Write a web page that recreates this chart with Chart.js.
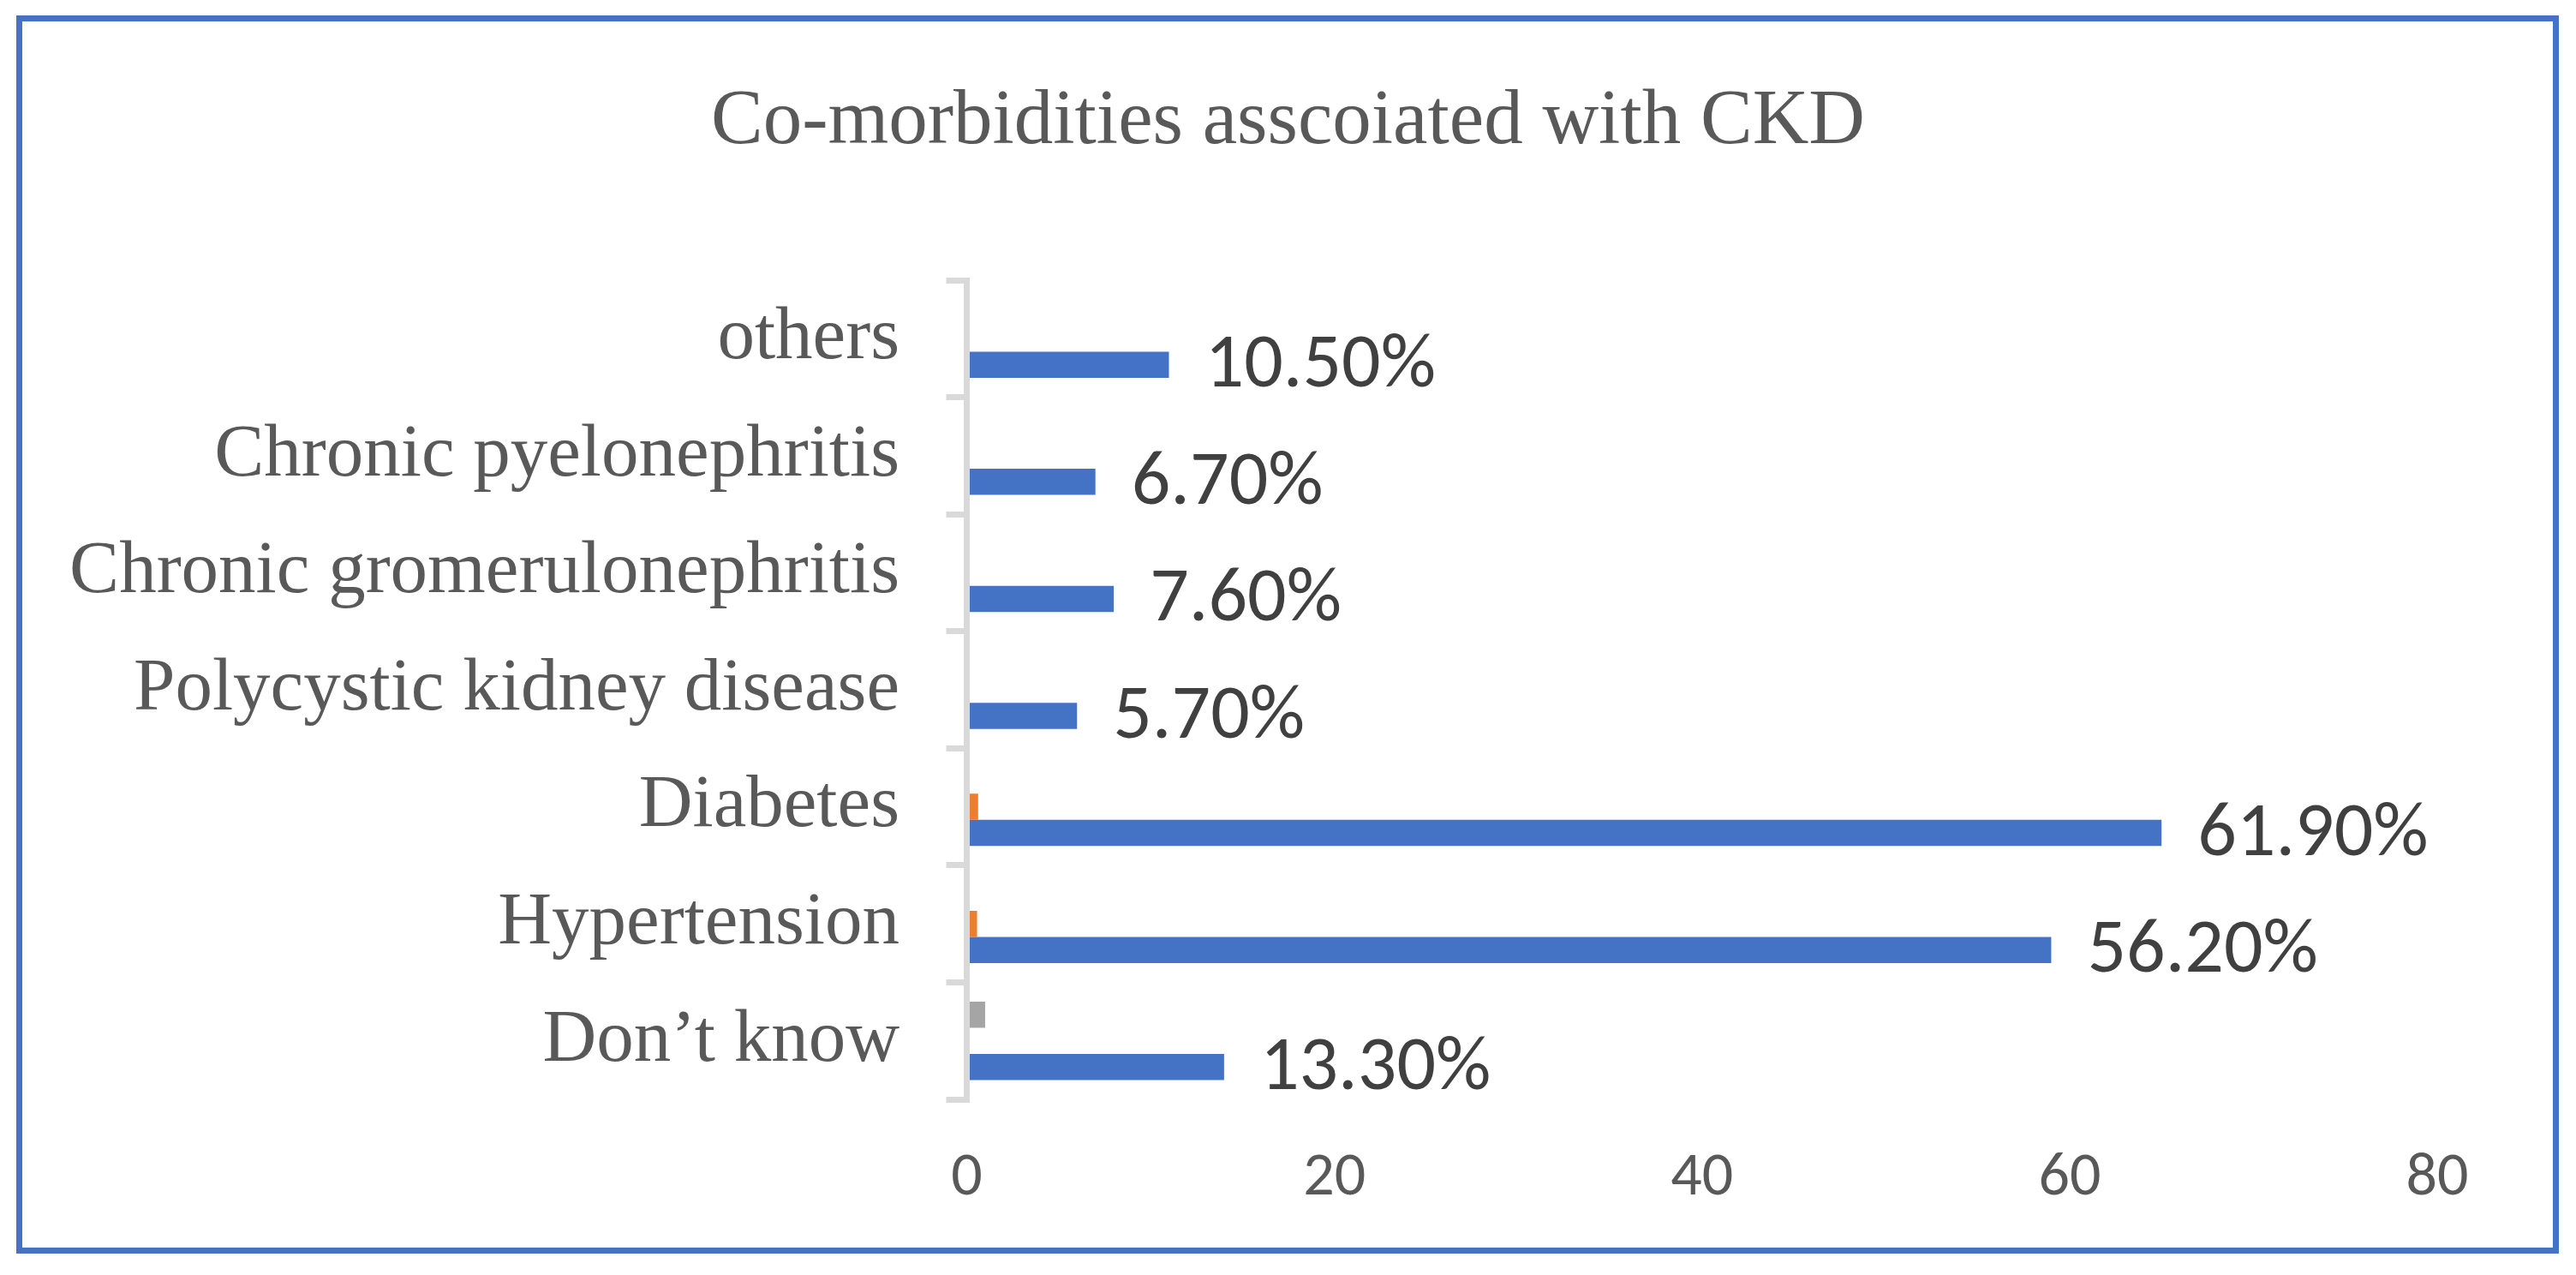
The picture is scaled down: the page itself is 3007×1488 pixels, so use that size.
<!DOCTYPE html>
<html lang="en">

<head>
    <meta charset="UTF-8">
    <title>Co-morbidities asscoiated with CKD</title>
    <script src="https://cdn.jsdelivr.net/npm/chart.js"></script>
    <style>
        html, body {
            margin: 0;
            padding: 0;
            background: white;
        }

        #wrap {
            position: absolute;
            left: 0;
            top: 0;
            width: 3007px;
            height: 1488px;
        }

        #frame {
            position: absolute;
            left: 19px;
            top: 18px;
            width: 2968px;
            height: 1445px;
            box-sizing: border-box;
            border: 7px solid #4472C4;
            pointer-events: none;
        }
    </style>
</head>

<body>
    <div id="wrap">
        <canvas id="ckdChart"></canvas>
    </div>
    <div id="frame"></div>

    <script>
        // Data for the chart (top to bottom)
        var categories = ['others', 'Chronic pyelonephritis', 'Chronic gromerulonephritis', 'Polycystic kidney disease', 'Diabetes', 'Hypertension', 'Don\u2019t know'];
        var series1 = [11, 7, 8, 6, 65, 59, 14];
        var series2 = [null, null, null, null, 0.619, 0.562, null];
        var series3 = [null, null, null, null, null, null, 1];
        var percentLabels = ['10.50%', '6.70%', '7.60%', '5.70%', '61.90%', '56.20%', '13.30%'];

        var sansFont = "Carlito, 'Liberation Sans Narrow', 'DejaVu Sans Condensed', 'Open Sans', sans-serif";
        var serifFont = "'Liberation Serif', 'Times New Roman', serif";

        // percentage labels at the end of the blue bars
        var valueLabels = {
            id: 'valueLabels',
            afterDatasetsDraw: function (chart) {
                var meta = chart.getDatasetMeta(2);
                var ctx = chart.ctx;
                ctx.save();
                ctx.font = '90px ' + sansFont;
                ctx.fillStyle = '#404040';
                ctx.textAlign = 'left';
                ctx.textBaseline = 'middle';
                meta.data.forEach(function (bar, i) {
                    ctx.fillText(percentLabels[i], bar.x + 42, bar.y + 3);
                });
                ctx.restore();
            }
        };

        var ctx = document.getElementById('ckdChart').getContext('2d');
        var ckdChart = new Chart(ctx, {
            type: 'bar',
            data: {
                labels: categories,
                datasets: [{
                    label: 'Series3',
                    data: series3,
                    backgroundColor: '#A5A5A5'
                }, {
                    label: 'Series2',
                    data: series2,
                    backgroundColor: '#ED7D31'
                }, {
                    label: 'Series1',
                    data: series1,
                    backgroundColor: '#4472C4'
                }]
            },
            plugins: [valueLabels],
            options: {
                indexAxis: 'y',
                responsive: true,
                maintainAspectRatio: false,
                animation: false,
                devicePixelRatio: 1,
                categoryPercentage: 0.67,
                barPercentage: 1.0,
                layout: {
                    padding: { left: 0, right: 0, top: 0, bottom: 55 }
                },
                plugins: {
                    legend: { display: false },
                    tooltip: { enabled: false },
                    title: {
                        display: true,
                        text: 'Co-morbidities asscoiated with CKD',
                        color: '#595959',
                        font: { family: serifFont, size: 91, weight: 'normal', lineHeight: 1.2 },
                        padding: { top: 88, bottom: 129.8 }
                    }
                },
                scales: {
                    x: {
                        min: 0,
                        max: 80,
                        ticks: {
                            stepSize: 20,
                            color: '#595959',
                            padding: 50,
                            font: { family: sansFont, size: 72 }
                        },
                        grid: { display: false, drawTicks: false },
                        border: { display: false },
                        afterFit: function (scale) { scale.height = 150; }
                    },
                    y: {
                        ticks: {
                            autoSkip: false,
                            color: '#595959',
                            padding: 54.5,
                            font: { family: serifFont, size: 87 }
                        },
                        grid: {
                            drawOnChartArea: false,
                            drawTicks: true,
                            tickLength: 24,
                            color: '#D9D9D9',
                            lineWidth: 7
                        },
                        border: { display: true, color: '#D9D9D9', width: 7, z: 1 },
                        afterFit: function (scale) { scale.width = 1128.5; }
                    },
                    // empty axis on the right, only keeps room after the 80 tick
                    yPad: {
                        type: 'category',
                        position: 'right',
                        ticks: { display: false },
                        grid: { display: false, drawTicks: false },
                        border: { display: false },
                        afterFit: function (scale) { scale.width = 162; }
                    }
                }
            }
        });
    </script>
</body>

</html>
